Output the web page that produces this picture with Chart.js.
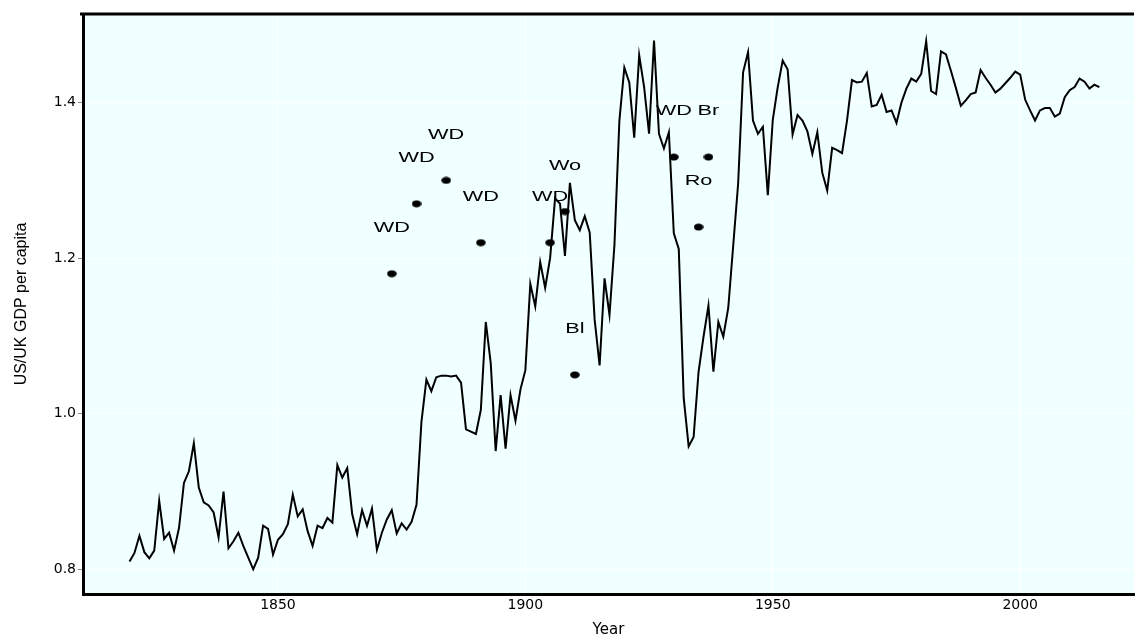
<!DOCTYPE html>
<html>
<head>
<meta charset="utf-8">
<title>US/UK GDP per capita</title>
<script src="https://cdn.jsdelivr.net/npm/chart.js@4.4.1/dist/chart.umd.min.js"></script>
<style>
  html, body { margin: 0; padding: 0; background: #fff; }
  canvas { display: block; }
</style>
</head>
<body>
<canvas id="gdpChart" width="1139" height="638"></canvas>
<script>
// US/UK GDP per capita ratio, one value per year from 1820
const startYear = 1820;
const ratio = [
    0.810, 0.821, 0.843, 0.822, 0.814, 0.824, 0.888, 0.839, 0.847, 0.824, // 1820s
    0.853, 0.911, 0.926, 0.962, 0.905, 0.886, 0.882, 0.873, 0.841, 0.900, // 1830s
    0.827, 0.836, 0.847, 0.830, 0.815, 0.800, 0.815, 0.856, 0.852, 0.819, // 1840s
    0.838, 0.845, 0.858, 0.896, 0.868, 0.877, 0.849, 0.830, 0.856, 0.853, // 1850s
    0.866, 0.860, 0.934, 0.918, 0.930, 0.871, 0.845, 0.876, 0.856, 0.878, // 1860s
    0.825, 0.847, 0.864, 0.876, 0.846, 0.859, 0.851, 0.861, 0.883, 0.990, // 1870s
    1.044, 1.029, 1.047, 1.049, 1.049, 1.048, 1.049, 1.040, 0.980, 0.977, // 1880s
    0.974, 1.005, 1.118, 1.065, 0.952, 1.024, 0.955, 1.024, 0.991, 1.031, // 1890s
    1.056, 1.167, 1.138, 1.195, 1.162, 1.200, 1.277, 1.270, 1.203, 1.297, // 1900s
    1.249, 1.236, 1.254, 1.233, 1.121, 1.062, 1.174, 1.127, 1.217, 1.377, // 1910s
    1.445, 1.426, 1.355, 1.461, 1.420, 1.360, 1.480, 1.360, 1.341, 1.362, // 1920s
    1.232, 1.212, 1.020, 0.958, 0.970, 1.054, 1.099, 1.139, 1.054, 1.118, // 1930s
    1.099, 1.136, 1.216, 1.296, 1.439, 1.465, 1.377, 1.360, 1.369, 1.281, // 1940s
    1.378, 1.420, 1.454, 1.443, 1.359, 1.384, 1.377, 1.363, 1.334, 1.362, // 1950s
    1.310, 1.287, 1.342, 1.339, 1.335, 1.377, 1.429, 1.426, 1.427, 1.438, // 1960s
    1.395, 1.397, 1.410, 1.388, 1.390, 1.374, 1.400, 1.418, 1.431, 1.427, // 1970s
    1.437, 1.479, 1.415, 1.411, 1.466, 1.462, 1.441, 1.419, 1.396, 1.403, // 1980s
    1.411, 1.413, 1.442, 1.432, 1.423, 1.413, 1.418, 1.425, 1.432, 1.440, // 1990s
    1.436, 1.404, 1.390, 1.377, 1.390, 1.393, 1.393, 1.382, 1.386, 1.407, // 2000s
    1.416, 1.420, 1.431, 1.427, 1.418, 1.423, 1.420                       // 2010-2016
];
const years = ratio.map((_, i) => startYear + i);

// labelled event markers
const eventYears  = [1873, 1878, 1884, 1891, 1905, 1908, 1910, 1930, 1935, 1937];
const eventValues = [1.18, 1.27, 1.30, 1.22, 1.22, 1.26, 1.05, 1.33, 1.24, 1.33];
const eventLabels = ['WD', 'WD', 'WD', 'WD', 'WD', 'Wo', 'Bl', 'WD', 'Ro', 'Br'];

const xTicks = [1850, 1900, 1950, 2000];
const yTicks = [0.8, 1.0, 1.2, 1.4];

// small flattened dot used for the markers
const dot = document.createElement('canvas');
dot.width = 10;
dot.height = 8;
(() => {
    const c = dot.getContext('2d');
    c.fillStyle = '#000';
    c.beginPath();
    c.ellipse(5, 4, 4.8, 3.4, 0, 0, Math.PI * 2);
    c.fill();
})();

const panelBackground = {
    id: 'panelBackground',
    beforeDraw(chart) {
        const { ctx, chartArea: a } = chart;
        ctx.save();
        ctx.fillStyle = '#f0ffff';
        ctx.fillRect(a.left, a.top, a.right - a.left, a.bottom - a.top);
        ctx.restore();
    },
    afterDraw(chart) {
        // top frame line
        const { ctx, chartArea: a } = chart;
        ctx.save();
        ctx.strokeStyle = '#000';
        ctx.lineWidth = 3;
        ctx.beginPath();
        ctx.moveTo(a.left - 3, a.top);
        ctx.lineTo(a.right, a.top);
        ctx.stroke();
        ctx.restore();
    }
};

const eventText = {
    id: 'eventText',
    afterDatasetsDraw(chart) {
        const { ctx, scales: { x, y } } = chart;
        ctx.save();
        ctx.font = '15.5px "Liberation Sans", Arial, sans-serif';
        ctx.fillStyle = '#000';
        ctx.textAlign = 'center';
        ctx.textBaseline = 'middle';
        eventYears.forEach((yr, i) => {
            const px = x.getPixelForValue(yr);
            const py = y.getPixelForValue(eventValues[i]) - 46;
            ctx.save();
            ctx.translate(px, py);
            ctx.scale(1.4, 1);
            ctx.fillText(eventLabels[i], 0, 0);
            ctx.restore();
        });
        ctx.restore();
    }
};

new Chart(document.getElementById('gdpChart'), {
    data: {
        datasets: [
            {
                type: 'line',
                data: years.map((yr, i) => ({ x: yr, y: ratio[i] })),
                borderColor: '#000',
                borderWidth: 2,
                pointRadius: 0,
                tension: 0,
                fill: false
            },
            {
                type: 'scatter',
                data: eventYears.map((yr, i) => ({ x: yr, y: eventValues[i] })),
                pointStyle: dot,
                pointRadius: 4,
                backgroundColor: '#000',
                borderColor: '#000'
            }
        ]
    },
    options: {
        responsive: false,
        animation: false,
        layout: { padding: { top: 14, left: 0, right: 0, bottom: 0 } },
        plugins: {
            legend: { display: false },
            tooltip: { enabled: false }
        },
        scales: {
            x: {
                type: 'linear',
                min: 1810.6,
                max: 2023,
                afterFit: (s) => { s.height = 44; },
                afterBuildTicks: (s) => { s.ticks = xTicks.map(v => ({ value: v })); },
                grid: { color: '#ffffff', lineWidth: 1, drawTicks: false },
                border: { display: true, color: '#000', width: 3 },
                ticks: {
                    padding: 3,
                    color: '#000',
                    maxRotation: 0,
                    autoSkip: false,
                    font: { family: '"DejaVu Sans"', size: 14 },
                    callback: (v) => String(v)
                },
                title: {
                    display: true,
                    text: 'Year',
                    color: '#000',
                    font: { family: '"DejaVu Sans"', size: 15, lineHeight: 1 },
                    padding: { top: 0, bottom: 0 }
                }
            },
            y: {
                type: 'linear',
                min: 0.7682,
                max: 1.514,
                afterFit: (s) => { s.width = 83; },
                afterBuildTicks: (s) => { s.ticks = yTicks.map(v => ({ value: v })); },
                grid: { color: '#ffffff', lineWidth: 1, tickColor: '#888', tickLength: 5 },
                border: { display: true, color: '#000', width: 3 },
                ticks: {
                    padding: 2,
                    color: '#000',
                    font: { family: '"DejaVu Sans"', size: 14 },
                    callback: (v) => v.toFixed(1)
                },
                title: {
                    display: true,
                    text: 'US/UK GDP per capita',
                    color: '#000',
                    font: { family: '"Liberation Sans"', size: 16 },
                    padding: { top: 12, bottom: 0 }
                }
            }
        }
    },
    plugins: [panelBackground, eventText]
});
</script>
</body>
</html>
